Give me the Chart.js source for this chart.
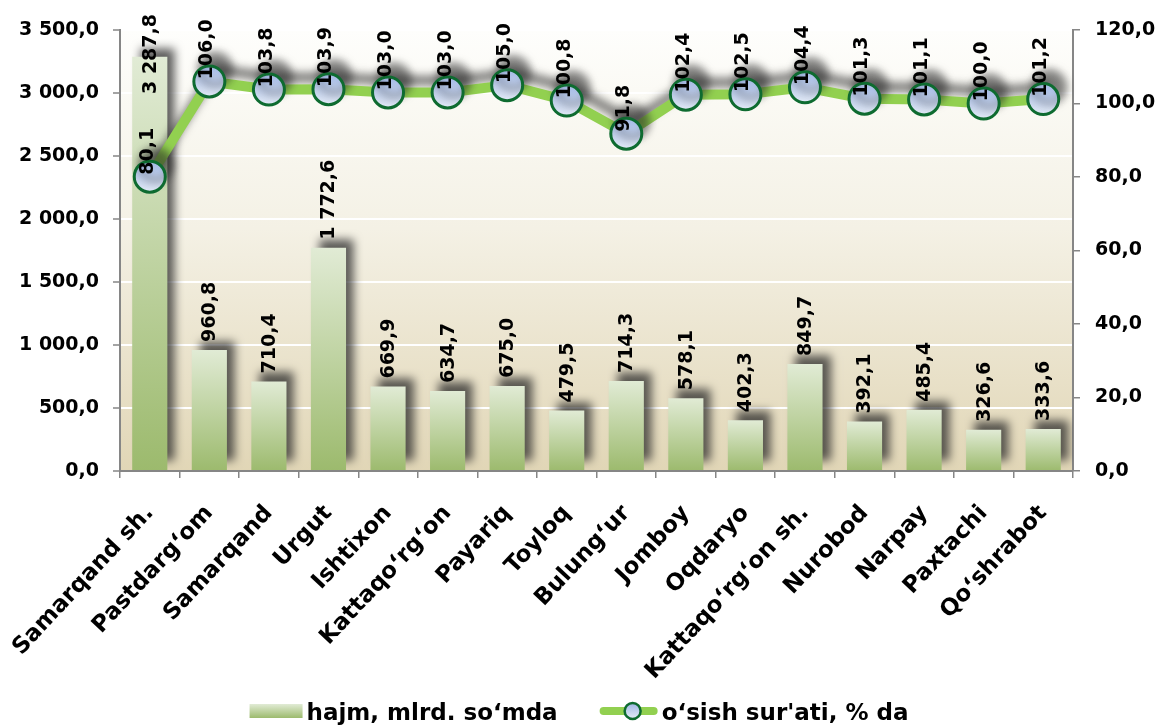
<!DOCTYPE html>
<html>
<head>
<meta charset="utf-8">
<script src="https://cdn.jsdelivr.net/npm/chart.js@4"></script>
<style>
  html, body { margin: 0; padding: 0; background: #ffffff; }
  #wrap { width: 1158px; height: 727px; }
</style>
</head>
<body>
<div id="wrap"><canvas id="c" width="1158" height="727"></canvas></div>
<script>
const categories = ["Samarqand sh.", "Pastdarg‘om", "Samarqand", "Urgut", "Ishtixon", "Kattaqo‘rg‘on", "Payariq", "Toyloq", "Bulung‘ur", "Jomboy", "Oqdaryo", "Kattaqo‘rg‘on sh.", "Nurobod", "Narpay", "Paxtachi", "Qo‘shrabot"];
const volume = [3287.8, 960.8, 710.4, 1772.6, 669.9, 634.7, 675.0, 479.5, 714.3, 578.1, 402.3, 849.7, 392.1, 485.4, 326.6, 333.6];
const growth = [80.1, 106.0, 103.8, 103.9, 103.0, 103.0, 105.0, 100.8, 91.8, 102.4, 102.5, 104.4, 101.3, 101.1, 100.0, 101.2];
const leftTicks = [0, 500, 1000, 1500, 2000, 2500, 3000, 3500];
const rightTicks = [0, 20, 40, 60, 80, 100, 120];
const seriesNames = ["hajm, mlrd. so‘mda", "o‘sish sur'ati, % da"];

const FONT = "'DejaVu Sans', 'Liberation Sans', sans-serif";

function fmt(v) {
  const s = Number(v).toFixed(1);
  const parts = s.split('.');
  return parts[0].replace(/\B(?=(\d{3})+(?!\d))/g, ' ') + ',' + parts[1];
}

function barGrad(ctx) {
  const chart = ctx.chart;
  const ys = chart.scales && chart.scales.y;
  if (!ys || ctx.type !== 'data' || !isFinite(ys.getPixelForValue(0))) return '#b8cf98';
  const top = ys.getPixelForValue(ctx.raw);
  const base = ys.getPixelForValue(0);
  const g = chart.ctx.createLinearGradient(0, top, 0, base);
  g.addColorStop(0, '#e1ebd5');
  g.addColorStop(1, '#9cba6d');
  return g;
}

function ptGrad(ctx) {
  const chart = ctx.chart;
  const ys = chart.scales && chart.scales.y1;
  if (!ys || ctx.type !== 'data' || !isFinite(ys.getPixelForValue(0))) return '#c5d4ee';
  const y = ys.getPixelForValue(ctx.raw);
  const g = chart.ctx.createLinearGradient(0, y - 15, 0, y + 15);
  g.addColorStop(0, '#a3b9e5');
  g.addColorStop(1, '#e1e9f6');
  return g;
}

const bgPlugin = {
  id: 'bg',
  beforeDraw(chart) {
    const c = chart.ctx, a = chart.chartArea;
    c.save();
    c.fillStyle = '#ffffff';
    c.fillRect(0, 0, chart.width, chart.height);
    const g = c.createLinearGradient(0, a.top, 0, a.bottom);
    g.addColorStop(0, '#fefefc');
    g.addColorStop(0.45, '#f4f1e5');
    g.addColorStop(1, '#e1d6b6');
    c.fillStyle = g;
    c.fillRect(a.left, a.top, a.right - a.left, a.bottom - a.top);
    c.restore();
  }
};

const shadowPlugin = {
  id: 'shadow',
  beforeDatasetDraw(chart, args) {
    const c = chart.ctx;
    c.save();
    if (args.meta.type === 'bar') {
      c.shadowColor = 'rgba(40,40,40,0.75)';
      c.shadowBlur = 9;
      c.shadowOffsetX = 8;
      c.shadowOffsetY = -9;
    } else {
      c.shadowColor = 'rgba(30,30,30,0.55)';
      c.shadowBlur = 9;
      c.shadowOffsetX = 6;
      c.shadowOffsetY = -12;
    }
  },
  afterDatasetDraw(chart) {
    chart.ctx.restore();
  }
};

const labelPlugin = {
  id: 'vlabels',
  afterDatasetsDraw(chart) {
    const c = chart.ctx;
    const minTop = chart.chartArea.top - 16;
    c.save();
    c.font = 'bold 19px ' + FONT;
    c.fillStyle = '#000000';
    c.textAlign = 'left';
    c.textBaseline = 'middle';
    chart.getDatasetMeta(0).data.forEach((el, i) => {
      const txt = fmt(volume[i]);
      const w = c.measureText(txt).width;
      let bottom = el.y - 8;
      if (bottom - w < minTop) bottom = minTop + w;
      c.save();
      c.translate(el.x + 1, bottom);
      c.rotate(-Math.PI / 2);
      c.fillText(txt, 0, 0);
      c.restore();
    });
    chart.getDatasetMeta(1).data.forEach((el, i) => {
      const txt = fmt(growth[i]);
      const w = c.measureText(txt).width;
      let bottom = el.y - 2;
      if (bottom - w < minTop) bottom = minTop + w;
      c.save();
      c.translate(el.x - 2, bottom);
      c.rotate(-Math.PI / 2);
      c.fillText(txt, 0, 0);
      c.restore();
    });
    c.restore();
  }
};

const legendPlugin = {
  id: 'customLegend',
  afterDraw(chart) {
    const c = chart.ctx;
    c.save();
    c.font = 'bold 23px ' + FONT;
    c.textBaseline = 'alphabetic';
    c.textAlign = 'left';
    const w1 = c.measureText(seriesNames[0]).width;
    const w2 = c.measureText(seriesNames[1]).width;
    const sw = 53, gapT = 4, gapMid = 42, lw = 58;
    const total = sw + gapT + w1 + gapMid + lw + gapT + w2;
    let x = chart.width / 2 - total / 2;
    const base = 720, midY = 711;
    const g = c.createLinearGradient(0, midY - 7, 0, midY + 7);
    g.addColorStop(0, '#e1ebd5');
    g.addColorStop(1, '#9cba6d');
    c.fillStyle = g;
    c.fillRect(x, midY - 7, sw, 14);
    x += sw + gapT;
    c.fillStyle = '#000';
    c.fillText(seriesNames[0], x, base);
    x += w1 + gapMid;
    c.strokeStyle = '#92d050';
    c.lineWidth = 8;
    c.lineCap = 'round';
    c.beginPath();
    c.moveTo(x + 4, midY);
    c.lineTo(x + lw - 4, midY);
    c.stroke();
    const cx = x + lw / 2 + 4;
    const pg = c.createLinearGradient(0, midY - 7, 0, midY + 7);
    pg.addColorStop(0, '#a3b9e5');
    pg.addColorStop(1, '#e1e9f6');
    c.fillStyle = pg;
    c.strokeStyle = '#0e6b30';
    c.lineWidth = 2.5;
    c.beginPath();
    c.ellipse(cx, midY, 8, 8, 0, 0, Math.PI * 2);
    c.fill();
    c.stroke();
    x += lw + gapT;
    c.fillStyle = '#000';
    c.fillText(seriesNames[1], x, base);
    c.restore();
  }
};

const tickFont = { family: FONT, size: 19, weight: 'bold' };
const axisGray = '#868686';

new Chart(document.getElementById('c').getContext('2d'), {
  type: 'bar',
  data: {
    labels: categories,
    datasets: [
      {
        type: 'bar',
        label: seriesNames[0],
        data: volume,
        yAxisID: 'y',
        order: 2,
        backgroundColor: barGrad,
        borderWidth: 0,
        categoryPercentage: 1,
        barPercentage: 0.59
      },
      {
        type: 'line',
        label: seriesNames[1],
        data: growth,
        yAxisID: 'y1',
        order: 1,
        borderColor: '#92d050',
        borderWidth: 10,
        borderJoinStyle: 'round',
        tension: 0,
        pointRadius: 15.5,
        pointBorderWidth: 3,
        pointBorderColor: '#0e6b30',
        pointBackgroundColor: ptGrad,
        fill: false
      }
    ]
  },
  options: {
    responsive: false,
    animation: false,
    devicePixelRatio: 1,
    layout: { padding: { top: 30, left: 0, right: 0, bottom: 0 } },
    plugins: { legend: { display: false }, tooltip: { enabled: false } },
    scales: {
      x: {
        offset: true,
        grid: { offset: true, drawOnChartArea: false, color: axisGray, tickLength: 7, lineWidth: 1.5 },
        border: { color: axisGray, width: 2 },
        ticks: { font: { family: FONT, size: 23, weight: 'bold' }, color: '#000', maxRotation: 47, minRotation: 47, padding: 22, autoSkip: false },
        afterFit(s) { s.height = 256; s.paddingLeft = 0; s.paddingRight = 0; }
      },
      y: {
        position: 'left',
        min: 0, max: 3500,
        afterBuildTicks(s) { s.ticks = leftTicks.map(v => ({ value: v })); },
        ticks: { callback: v => fmt(v), font: tickFont, color: '#000', padding: 14 },
        grid: { color: '#ffffff', lineWidth: 2, tickColor: axisGray, tickLength: 7, tickWidth: 1.5 },
        border: { color: axisGray, width: 2 },
        afterFit(s) { s.width = 120; }
      },
      y1: {
        position: 'right',
        min: 0, max: 120,
        afterBuildTicks(s) { s.ticks = rightTicks.map(v => ({ value: v })); },
        ticks: { callback: v => fmt(v), font: tickFont, color: '#000', padding: 15 },
        grid: { drawOnChartArea: false, color: axisGray, tickLength: 7, lineWidth: 1.5 },
        border: { color: axisGray, width: 2 },
        afterFit(s) { s.width = 85; }
      }
    }
  },
  plugins: [bgPlugin, shadowPlugin, labelPlugin, legendPlugin]
});
</script>
</body>
</html>
